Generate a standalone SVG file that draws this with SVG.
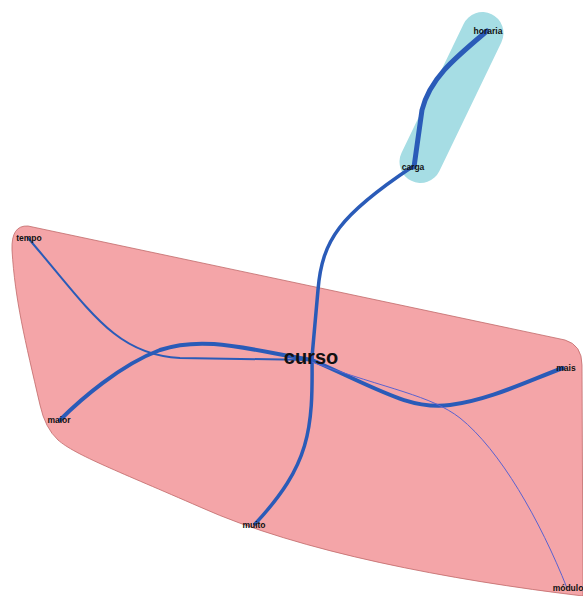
<svg xmlns="http://www.w3.org/2000/svg" width="583" height="596" viewBox="0 0 583 596">
<style>
.lbl{font-family:"Liberation Sans",Arial,sans-serif;font-weight:bold;font-size:8.5px;fill:#111;text-anchor:middle;dominant-baseline:central}
.big{font-size:20px}
.e{fill:none;stroke:#2a5bb8;stroke-linecap:round}
</style>
<rect width="583" height="596" fill="#fff"/>
<g id="hulls">
<path id="hull-pink" d="M28,226 L565,340 Q582,345 582,365 L583,596 C450,580 300,552 200,507 C120,472 75,455 58,440 Q45,428 40,405 C25,340 15,300 12,250 Q11,225 28,226 Z" fill="#f4a5a8" stroke="#c06a6a" stroke-width="0.8"/>
<rect id="hull-blue" x="430.5" y="5" width="42" height="185" rx="21" fill="#a6dde4" transform="rotate(25.7 451.5 97.5)"/>
</g>
<g id="edges">
<path class="e" stroke-width="5" d="M487,31 C455,58 430,78 422,110 L414,167"/>
<path class="e" stroke-width="3.5" d="M412,167 C340,215 322,240 318,290 L312,357"/>
<path class="e" stroke-width="3.5" d="M312,357 C313,430 310,465 255,524"/>
<path class="e" stroke-width="4" d="M312,360 C250,350 205,335 160,350 C120,365 80,400 60,420"/>
<path class="e" stroke-width="2" d="M28,238 C90,310 115,355 180,358 L312,360"/>
<path class="e" stroke-width="4" d="M312,360 C380,390 410,410 450,405 C490,400 530,380 563,368"/>
<path class="e" stroke-width="1" style="stroke:#5a62d0" d="M312,362 C390,390 430,395 460,418 C500,450 540,520 567,588"/>
</g>
<g id="node-horaria"><text class="lbl" x="488" y="31">horaria</text></g>
<g id="node-carga"><text class="lbl" x="413" y="167">carga</text></g>
<g id="node-tempo"><text class="lbl" x="29" y="238">tempo</text></g>
<g id="node-maior"><text class="lbl" x="59" y="420">maior</text></g>
<g id="node-curso"><text class="lbl big" x="311" y="357">curso</text></g>
<g id="node-mais"><text class="lbl" x="566" y="368">mais</text></g>
<g id="node-muito"><text class="lbl" x="254" y="525">muito</text></g>
<g id="node-modulo"><text class="lbl" x="568" y="588">módulo</text></g>
</svg>
